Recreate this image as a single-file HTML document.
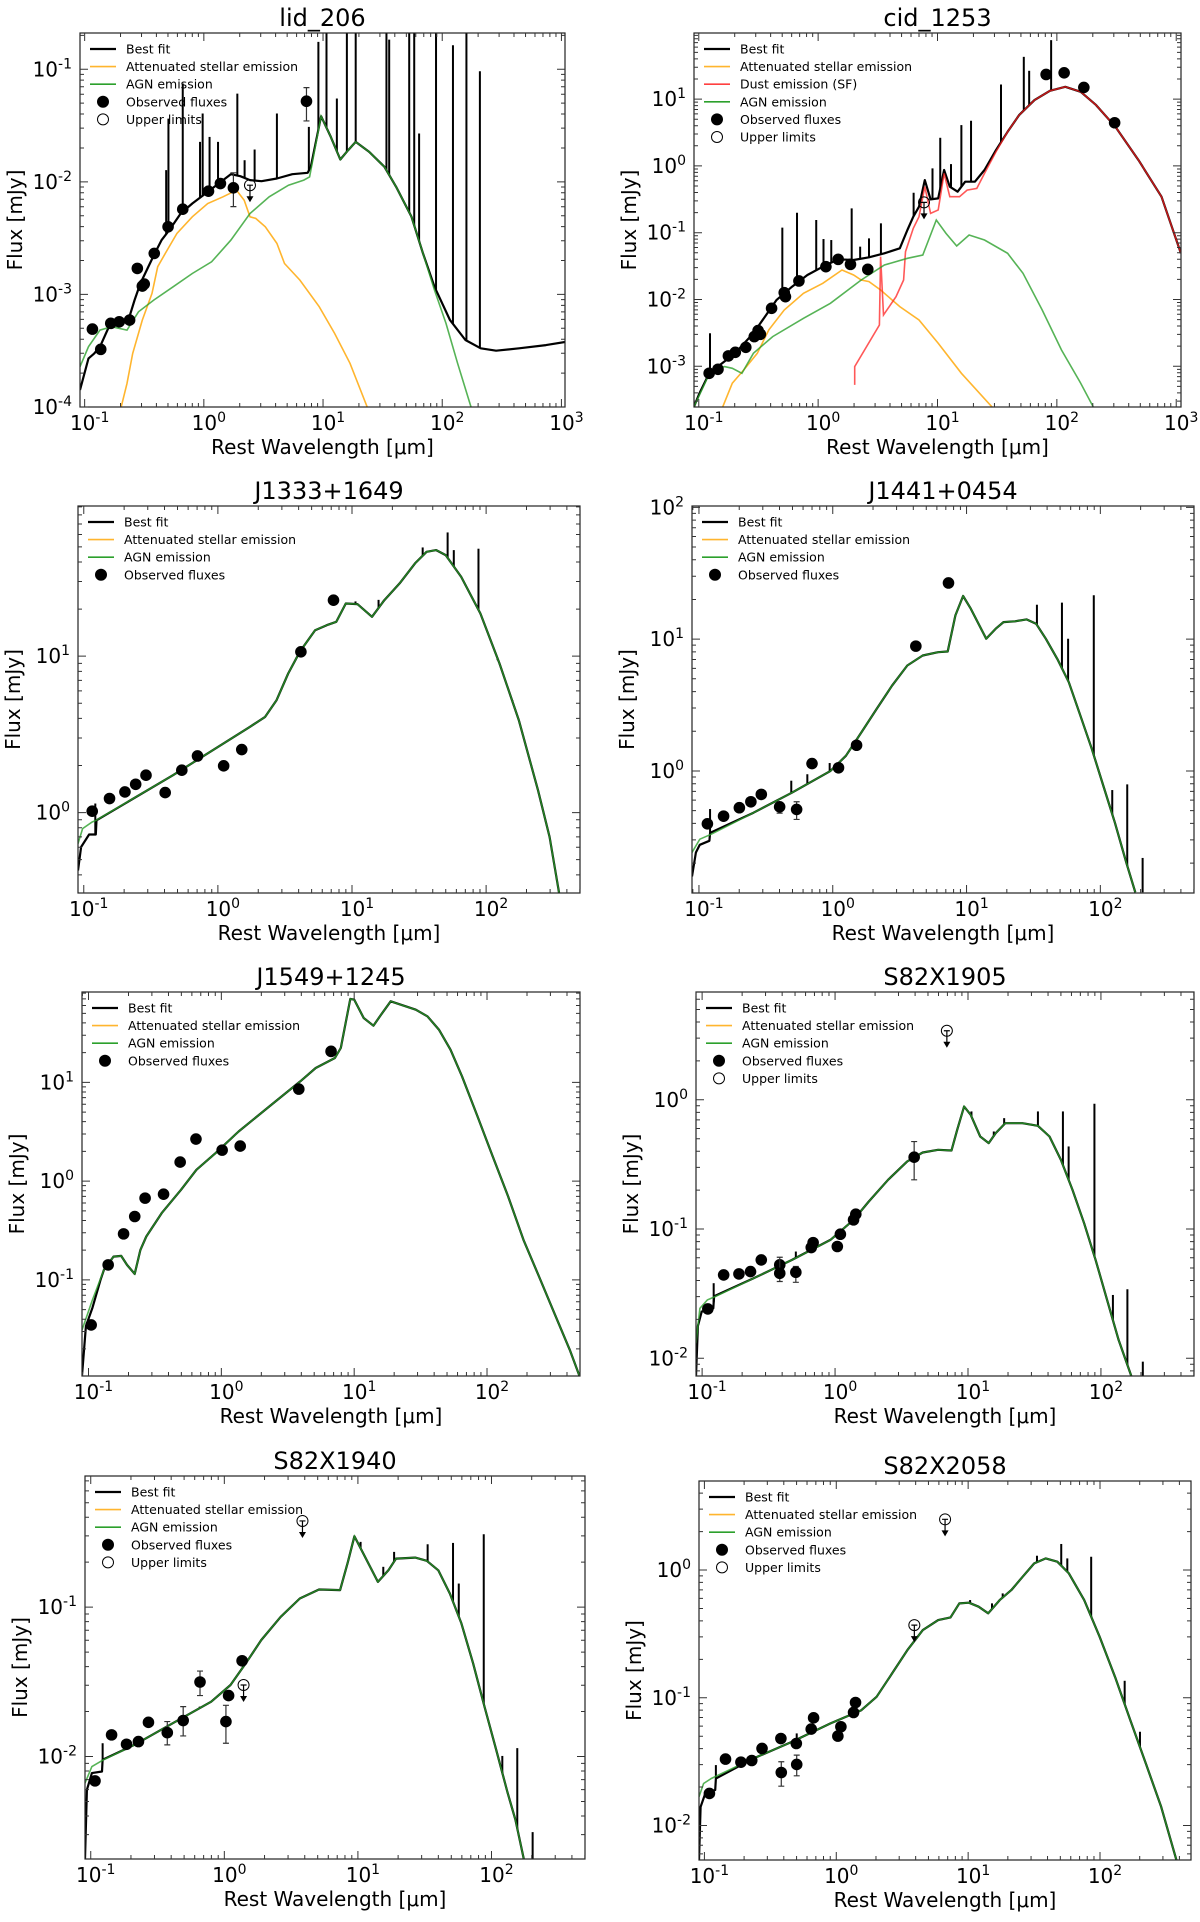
<!DOCTYPE html>
<html><head><meta charset="utf-8"><title>SED fits</title>
<style>
html,body{margin:0;padding:0;background:#fff;}
svg{display:block;font-family:"DejaVu Sans","Liberation Sans",sans-serif;}
</style></head>
<body>
<svg id="fig" width="1200" height="1922" viewBox="0 0 1200 1922" xmlns="http://www.w3.org/2000/svg"></svg>
<script>
// All values are log10(wavelength / micron) and log10(flux / mJy)
// ---------- lid_206 ----------
const p1FitX=[-1.039,-0.968,-0.919,-0.871,-0.79,-0.629,-0.581,-0.532,-0.419,-0.355,-0.29,-0.194,-0.097,0.032,0.226,0.306,0.387,0.484,0.613,0.742,0.871,0.897,0.984,1.065,1.145,1.21,1.274,1.387,1.516,1.613,1.742,1.839,1.935,2.065,2.194,2.323,2.452,2.645,2.871,3.045];
const p1FitY=[-3.849,-3.568,-3.524,-3.464,-3.272,-3.213,-3.05,-2.902,-2.651,-2.518,-2.429,-2.281,-2.192,-2.089,-1.932,-1.95,-1.985,-1.994,-1.97,-1.932,-1.92,-1.867,-1.417,-1.601,-1.802,-1.719,-1.645,-1.734,-1.867,-2.044,-2.311,-2.636,-2.932,-3.228,-3.405,-3.479,-3.5,-3.479,-3.45,-3.42];
const p1StarX=[-0.694,-0.645,-0.597,-0.516,-0.435,-0.387,-0.323,-0.226,-0.097,0.032,0.161,0.274,0.339,0.387,0.435,0.516,0.613,0.677,0.806,0.968,1.097,1.226,1.371];
const p1StarY=[-4.003,-3.79,-3.524,-3.228,-2.991,-2.754,-2.636,-2.459,-2.311,-2.192,-2.133,-2.074,-2.163,-2.311,-2.325,-2.399,-2.547,-2.725,-2.873,-3.109,-3.346,-3.612,-4.003];
const p1AgnX=[-1.039,-0.968,-0.871,-0.774,-0.645,-0.548,-0.419,-0.258,-0.097,0.065,0.226,0.387,0.548,0.71,0.839,0.887,0.984,1.065,1.145,1.21,1.274,1.387,1.516,1.613,1.742,1.839,1.935,2.032,2.129,2.242];
const p1AgnY=[-3.642,-3.464,-3.317,-3.287,-3.317,-3.154,-3.05,-2.932,-2.814,-2.71,-2.518,-2.281,-2.133,-2.03,-1.985,-1.956,-1.417,-1.601,-1.802,-1.719,-1.645,-1.734,-1.867,-2.044,-2.311,-2.636,-2.962,-3.257,-3.612,-4.003];
const p1LineX=[-0.316,-0.297,-0.177,-0.032,-0.01,0.048,0.119,0.281,0.342,0.426,0.613,0.881,0.961,1.029,1.116,1.2,1.274,1.532,1.555,1.723,1.765,1.806,1.948,2.09,2.203,2.316];
const p1LineTop=[-1.896,-1.438,-1.127,-1.645,-1.393,-1.601,-1.645,-1.216,-1.808,-1.713,-1.393,-1.512,-0.757,-0.5,-1.26,-0.5,-0.5,-0.5,-0.737,-0.5,-0.5,-1.571,-0.5,-0.787,-0.5,-1.018];
const p1ObsX=[-0.935,-0.865,-0.781,-0.71,-0.623,-0.558,-0.516,-0.5,-0.416,-0.3,-0.177,0.039,0.139,0.248,0.861];
const p1ObsY=[-3.308,-3.488,-3.257,-3.243,-3.228,-2.769,-2.926,-2.908,-2.636,-2.399,-2.243,-2.083,-2.015,-2.053,-1.284];
const p1ErrLo=[null,null,null,null,null,null,null,null,null,null,null,null,null,-2.22,-1.459];
const p1ErrHi=[null,null,null,null,null,null,null,null,null,null,null,null,null,-1.92,-1.163];
const p1UlX=[0.387];
const p1UlY=[-2.03];
// ---------- cid_1253 ----------
const p2FitX=[-1.042,-0.994,-0.913,-0.768,-0.671,-0.542,-0.445,-0.348,-0.219,-0.09,0.039,0.168,0.297,0.426,0.555,0.684,0.748,0.797,0.845,0.894,0.942,1.006,1.055,1.103,1.168,1.232,1.313,1.394,1.49,1.587,1.684,1.813,1.942,2.071,2.2,2.329,2.49,2.684,2.877,3.039];
const p2FitY=[-3.613,-3.404,-3.105,-2.905,-2.756,-2.506,-2.257,-2.007,-1.808,-1.633,-1.509,-1.399,-1.409,-1.369,-1.309,-1.234,-0.96,-0.761,-0.611,-0.212,-0.501,-0.486,-0.062,-0.312,-0.387,-0.237,-0.237,-0.062,0.237,0.511,0.761,0.985,1.125,1.185,1.11,0.91,0.586,0.087,-0.461,-1.309];
const p2StarX=[-0.8,-0.719,-0.623,-0.51,-0.413,-0.284,-0.123,0.039,0.2,0.297,0.361,0.426,0.523,0.684,0.845,1.006,1.2,1.458];
const p2StarY=[-3.613,-3.254,-3.055,-2.806,-2.456,-2.157,-1.908,-1.758,-1.559,-1.633,-1.708,-1.733,-1.858,-2.107,-2.307,-2.656,-3.105,-3.613];
const p2DustX=[0.306,0.306,0.513,0.523,0.548,0.652,0.716,0.732,0.797,0.845,0.894,0.942,1.006,1.055,1.103,1.184,1.248,1.329,1.394,1.49,1.587,1.684,1.813,1.942,2.071,2.2,2.329,2.49,2.684,2.877,3.039];
const p2DustY=[-3.279,-3.005,-2.382,-1.359,-2.232,-1.958,-1.708,-1.284,-0.935,-0.761,-0.312,-0.711,-0.661,-0.112,-0.461,-0.461,-0.362,-0.337,-0.112,0.212,0.511,0.761,0.985,1.125,1.185,1.11,0.91,0.586,0.087,-0.461,-1.309];
const p2AgnX=[-1.042,-0.897,-0.784,-0.719,-0.639,-0.542,-0.381,-0.123,0.103,0.361,0.555,0.748,0.877,0.99,1.071,1.161,1.265,1.394,1.587,1.716,1.877,2.039,2.2,2.306];
const p2AgnY=[-3.613,-3.055,-3.005,-3.03,-3.105,-2.806,-2.556,-2.282,-2.057,-1.708,-1.484,-1.384,-1.334,-0.81,-1.01,-1.2,-1.035,-1.11,-1.309,-1.608,-2.157,-2.756,-3.254,-3.613];
const p2LineX=[-0.906,-0.3,-0.177,-0.016,0.045,0.11,0.281,0.352,0.426,0.526,0.8,0.958,1.023,1.113,1.2,1.281,1.532,1.723,1.768,1.952];
const p2LineTop=[-2.506,-0.925,-0.701,-0.81,-1.095,-1.11,-0.636,-1.209,-1.085,-0.86,-0.402,-0.037,0.421,0.027,0.611,0.676,1.219,1.633,1.424,1.883];
const p2ObsX=[-0.913,-0.839,-0.752,-0.694,-0.606,-0.535,-0.503,-0.484,-0.39,-0.284,-0.274,-0.161,0.065,0.168,0.271,0.416,1.91,2.061,2.226,2.484];
const p2ObsY=[-3.105,-3.045,-2.845,-2.791,-2.716,-2.556,-2.466,-2.521,-2.132,-1.898,-1.958,-1.723,-1.509,-1.399,-1.474,-1.549,1.369,1.394,1.175,0.646];
const p2UlX=[0.887];
const p2UlY=[-0.546];
// ---------- J1333+1649 ----------
const p3FitX=[-1.043,-1.02,-0.96,-0.91,-0.905,-0.335,0.238,0.352,0.438,0.524,0.611,0.725,0.811,0.883,0.954,1.04,1.149,1.241,1.355,1.47,1.556,1.628,1.699,1.814,1.957,2.1,2.244,2.387,2.473,2.544];
const p3FitY=[-0.37,-0.22,-0.14,-0.14,-0.049,0.239,0.548,0.612,0.719,0.889,1.028,1.166,1.198,1.22,1.337,1.333,1.252,1.358,1.465,1.593,1.667,1.678,1.646,1.507,1.273,0.953,0.591,0.143,-0.156,-0.514];
const p3AgnX=[-1.043,-1.009,-0.937,-0.908,-0.335,0.238,0.352,0.438,0.524,0.611,0.725,0.811,0.883,0.954,1.04,1.149,1.241,1.355,1.47,1.556,1.628,1.699,1.814,1.957,2.1,2.244,2.387,2.473,2.544];
const p3AgnY=[-0.198,-0.102,-0.06,-0.049,0.239,0.548,0.612,0.719,0.889,1.028,1.166,1.198,1.22,1.337,1.333,1.252,1.358,1.465,1.593,1.667,1.678,1.646,1.507,1.273,0.953,0.591,0.143,-0.156,-0.514];
const p3LineX=[-0.914,1.026,1.198,1.527,1.713,1.759,1.943,2.086,2.195];
const p3LineTop=[0.058,1.35,1.36,1.695,1.791,1.678,1.687,0.974,0.719];
const p3ObsX=[-0.937,-0.808,-0.693,-0.613,-0.536,-0.393,-0.269,-0.152,0.043,0.178,0.619,0.862];
const p3ObsY=[0.009,0.09,0.132,0.181,0.239,0.128,0.271,0.362,0.299,0.403,1.028,1.358];
// ---------- J1441+0454 ----------
const p4FitX=[-1.052,-1.023,-0.994,-0.922,-0.917,-0.592,-0.305,-0.017,0.098,0.213,0.328,0.443,0.557,0.672,0.787,0.859,0.917,0.974,1.032,1.147,1.218,1.276,1.362,1.448,1.52,1.592,1.678,1.764,1.851,1.937,2.023,2.109,2.195,2.261];
const p4FitY=[-0.8,-0.619,-0.56,-0.53,-0.47,-0.317,-0.165,0.0,0.115,0.292,0.47,0.647,0.8,0.876,0.901,0.906,1.18,1.327,1.231,1.003,1.079,1.129,1.135,1.15,1.117,1.003,0.85,0.673,0.419,0.165,-0.114,-0.393,-0.698,-0.921];
const p4AgnX=[-1.052,-0.994,-0.908,-0.592,-0.305,-0.017,0.098,0.213,0.328,0.443,0.557,0.672,0.787,0.859,0.917,0.974,1.032,1.147,1.218,1.276,1.362,1.448,1.52,1.592,1.678,1.764,1.851,1.937,2.023,2.109,2.195,2.261];
const p4AgnY=[-0.619,-0.518,-0.48,-0.317,-0.165,0.0,0.115,0.292,0.47,0.647,0.8,0.876,0.901,0.906,1.18,1.327,1.231,1.003,1.079,1.129,1.135,1.15,1.117,1.003,0.85,0.673,0.419,0.165,-0.114,-0.393,-0.698,-0.921];
const p4LineX=[-0.917,-0.31,-0.19,-0.023,1.526,1.713,1.759,1.951,2.089,2.201,2.316];
const p4LineTop=[-0.289,-0.074,-0.025,0.06,1.261,1.277,1.003,1.333,-0.145,-0.102,-0.66];
const p4ObsX=[-0.937,-0.816,-0.698,-0.612,-0.534,-0.397,-0.27,-0.155,0.043,0.178,0.621,0.865];
const p4ObsY=[-0.401,-0.343,-0.279,-0.234,-0.178,-0.272,-0.292,0.056,0.024,0.195,0.947,1.426];
const p4ErrLo=[null,null,null,null,null,-0.32,-0.368,null,null,null,null,null];
const p4ErrHi=[null,null,null,null,null,-0.24,-0.234,null,null,null,null,null];
// ---------- J1549+1245 ----------
const p5FitX=[-1.049,-1.02,-0.97,-0.91,-0.884,-0.812,-0.754,-0.71,-0.652,-0.609,-0.565,-0.449,-0.304,-0.188,-0.043,0.13,0.362,0.594,0.71,0.855,0.899,0.971,1.0,1.072,1.145,1.203,1.275,1.348,1.464,1.551,1.638,1.725,1.812,1.928,2.043,2.159,2.275,2.391,2.507,2.623,2.696];
const p5FitY=[-1.97,-1.47,-1.28,-1.0,-0.899,-0.764,-0.757,-0.848,-0.939,-0.696,-0.561,-0.324,-0.088,0.115,0.284,0.503,0.757,1.01,1.145,1.247,1.348,1.845,1.838,1.652,1.574,1.686,1.821,1.787,1.736,1.669,1.534,1.331,1.061,0.655,0.25,-0.155,-0.595,-0.966,-1.338,-1.709,-1.973];
const p5AgnX=[-1.049,-0.971,-0.884,-0.812,-0.754,-0.71,-0.652,-0.609,-0.565,-0.449,-0.304,-0.188,-0.043,0.13,0.362,0.594,0.71,0.855,0.899,0.971,1.0,1.072,1.145,1.203,1.275,1.348,1.464,1.551,1.638,1.725,1.812,1.928,2.043,2.159,2.275,2.391,2.507,2.623,2.696];
const p5AgnY=[-1.507,-1.203,-0.899,-0.764,-0.757,-0.848,-0.939,-0.696,-0.561,-0.324,-0.088,0.115,0.284,0.503,0.757,1.01,1.145,1.247,1.348,1.845,1.838,1.652,1.574,1.686,1.821,1.787,1.736,1.669,1.534,1.331,1.061,0.655,0.25,-0.155,-0.595,-0.966,-1.338,-1.709,-1.973];
const p5ObsX=[-0.98,-0.852,-0.736,-0.652,-0.574,-0.435,-0.31,-0.191,0.006,0.142,0.583,0.826];
const p5ObsY=[-1.456,-0.848,-0.534,-0.358,-0.172,-0.132,0.193,0.426,0.314,0.355,0.932,1.314];
// ---------- S82X1905 ----------
const p6FitX=[-1.046,-1.032,-1.003,-0.916,-0.91,-0.613,-0.324,-0.035,0.139,0.254,0.399,0.543,0.659,0.775,0.876,0.919,0.971,1.02,1.092,1.156,1.208,1.28,1.41,1.526,1.613,1.699,1.786,1.873,1.96,2.046,2.133,2.228];
const p6FitY=[-2.137,-1.75,-1.639,-1.613,-1.52,-1.381,-1.239,-1.084,-0.929,-0.787,-0.619,-0.477,-0.408,-0.387,-0.392,-0.232,-0.052,-0.116,-0.284,-0.335,-0.258,-0.181,-0.181,-0.201,-0.284,-0.465,-0.697,-0.955,-1.239,-1.548,-1.858,-2.137];
const p6AgnX=[-1.046,-1.017,-0.96,-0.902,-0.613,-0.324,-0.035,0.139,0.254,0.399,0.543,0.659,0.775,0.876,0.919,0.971,1.02,1.092,1.156,1.208,1.28,1.41,1.526,1.613,1.699,1.786,1.873,1.96,2.046,2.133,2.228];
const p6AgnY=[-1.884,-1.613,-1.548,-1.523,-1.381,-1.239,-1.084,-0.929,-0.787,-0.619,-0.477,-0.408,-0.387,-0.392,-0.232,-0.052,-0.116,-0.284,-0.335,-0.258,-0.181,-0.181,-0.201,-0.284,-0.465,-0.697,-0.955,-1.239,-1.548,-1.858,-2.137];
const p6LineX=[-0.913,-0.295,1.026,1.194,1.272,1.526,1.714,1.757,1.951,2.09,2.199,2.315];
const p6LineTop=[-1.419,-1.174,-0.09,-0.245,-0.142,-0.09,-0.09,-0.361,-0.031,-1.51,-1.466,-2.026];
const p6ObsX=[-0.957,-0.838,-0.723,-0.636,-0.555,-0.416,-0.416,-0.295,-0.179,-0.165,0.017,0.04,0.139,0.156,0.595];
const p6ObsY=[-1.618,-1.355,-1.347,-1.329,-1.239,-1.277,-1.342,-1.334,-1.143,-1.105,-1.135,-1.04,-0.929,-0.885,-0.444];
const p6ErrLo=[null,null,null,null,null,null,-1.406,-1.412,null,null,null,null,null,null,-0.619];
const p6ErrHi=[null,null,null,null,null,null,-1.218,-1.29,null,null,null,null,null,null,-0.323];
const p6UlX=[0.841];
const p6UlY=[0.534];
// ---------- S82X1940 ----------
const p7FitX=[-1.043,-1.029,-0.991,-0.916,-0.911,-0.674,-0.386,-0.098,0.046,0.161,0.277,0.421,0.565,0.709,0.867,0.925,0.974,1.04,1.15,1.228,1.285,1.429,1.516,1.602,1.689,1.775,1.862,1.948,2.035,2.121,2.179,2.242];
const p7FitY=[-2.686,-2.223,-2.111,-2.1,-2.022,-1.922,-1.777,-1.633,-1.521,-1.376,-1.22,-1.065,-0.942,-0.882,-0.886,-0.697,-0.526,-0.641,-0.831,-0.753,-0.675,-0.668,-0.69,-0.753,-0.909,-1.109,-1.376,-1.666,-1.955,-2.245,-2.423,-2.686];
const p7AgnX=[-1.043,-0.991,-0.905,-0.674,-0.386,-0.098,0.046,0.161,0.277,0.421,0.565,0.709,0.867,0.925,0.974,1.04,1.15,1.228,1.285,1.429,1.516,1.602,1.689,1.775,1.862,1.948,2.035,2.121,2.179,2.242];
const p7AgnY=[-2.178,-2.067,-2.022,-1.922,-1.777,-1.633,-1.521,-1.376,-1.22,-1.065,-0.942,-0.882,-0.886,-0.697,-0.526,-0.641,-0.831,-0.753,-0.675,-0.668,-0.69,-0.753,-0.909,-1.109,-1.376,-1.666,-1.955,-2.245,-2.423,-2.686];
const p7LineX=[-0.911,-0.184,1.02,1.19,1.271,1.522,1.712,1.755,1.942,2.081,2.193,2.308];
const p7LineTop=[-1.911,-1.666,-0.563,-0.73,-0.63,-0.579,-0.57,-0.842,-0.512,-1.996,-1.944,-2.506];
const p7ObsX=[-0.968,-0.844,-0.732,-0.643,-0.568,-0.427,-0.308,-0.182,0.012,0.032,0.133];
const p7ObsY=[-2.163,-1.855,-1.918,-1.9,-1.771,-1.84,-1.759,-1.501,-1.766,-1.592,-1.359];
const p7ErrLo=[null,null,null,null,null,-1.922,-1.862,-1.592,-1.911,null,null];
const p7ErrHi=[null,null,null,null,null,-1.766,-1.666,-1.428,-1.657,null,null];
const p7UlX=[0.585,0.144];
const p7UlY=[-0.423,-1.521];
// ---------- S82X2058 ----------
const p8FitX=[-1.041,-1.029,-0.99,-0.918,-0.913,-0.627,-0.335,-0.044,0.19,0.306,0.423,0.539,0.656,0.773,0.866,0.933,1.006,1.079,1.152,1.239,1.327,1.414,1.501,1.589,1.676,1.764,1.88,1.997,2.114,2.23,2.347,2.464,2.58];
const p8FitY=[-2.27,-1.854,-1.74,-1.723,-1.632,-1.475,-1.345,-1.201,-1.097,-0.992,-0.809,-0.627,-0.47,-0.392,-0.371,-0.261,-0.256,-0.287,-0.339,-0.235,-0.157,-0.052,0.052,0.091,0.065,-0.026,-0.235,-0.522,-0.836,-1.175,-1.514,-1.854,-2.272];
const p8AgnX=[-1.041,-1.006,-0.948,-0.627,-0.335,-0.044,0.19,0.306,0.423,0.539,0.656,0.773,0.866,0.933,1.006,1.079,1.152,1.239,1.327,1.414,1.501,1.589,1.676,1.764,1.88,1.997,2.114,2.23,2.347,2.464,2.58];
const p8AgnY=[-1.775,-1.671,-1.632,-1.475,-1.345,-1.201,-1.097,-0.992,-0.809,-0.627,-0.47,-0.392,-0.371,-0.261,-0.256,-0.287,-0.339,-0.235,-0.157,-0.052,0.052,0.091,0.065,-0.026,-0.235,-0.522,-0.836,-1.175,-1.514,-1.854,-2.272];
const p8LineX=[-0.913,-0.3,1.015,1.181,1.262,1.522,1.706,1.752,1.933,2.187,2.303];
const p8LineTop=[-1.527,-1.279,-0.235,-0.261,-0.183,0.112,0.204,0.091,0.104,-0.867,-1.266];
const p8ObsX=[-0.962,-0.84,-0.723,-0.641,-0.563,-0.42,-0.417,-0.303,-0.3,-0.19,-0.172,0.012,0.035,0.131,0.146];
const p8ObsY=[-1.749,-1.48,-1.504,-1.491,-1.397,-1.319,-1.585,-1.358,-1.522,-1.245,-1.157,-1.3,-1.227,-1.115,-1.037];
const p8ErrLo=[null,null,null,null,null,null,-1.692,null,-1.611,null,null,null,null,null,null];
const p8ErrHi=[null,null,null,null,null,null,-1.501,null,-1.449,null,null,null,null,null,null];
const p8UlX=[0.592,0.825];
const p8UlY=[-0.431,0.397];

const panels=[
 {id:'lid-206',title:'lid_206',L:80,R:565,T:33,B:407,xr:[-1.039,3.03],yr:[-4.0,-0.678],
  fitX:p1FitX,fitY:p1FitY,starX:p1StarX,starY:p1StarY,agnX:p1AgnX,agnY:p1AgnY,lineX:p1LineX,lineTop:p1LineTop,
  obsX:p1ObsX,obsY:p1ObsY,errLo:p1ErrLo,errHi:p1ErrHi,ulX:p1UlX,ulY:p1UlY,dust:false},
 {id:'cid-1253',title:'cid_1253',L:694,R:1181,T:33,B:407,xr:[-1.04,3.04],yr:[-3.61,1.99],
  fitX:p2FitX,fitY:p2FitY,starX:p2StarX,starY:p2StarY,dustX:p2DustX,dustY:p2DustY,agnX:p2AgnX,agnY:p2AgnY,lineX:p2LineX,lineTop:p2LineTop,
  obsX:p2ObsX,obsY:p2ObsY,ulX:p2UlX,ulY:p2UlY,dust:true},
 {id:'j1333',title:'J1333+1649',L:78,R:580,T:506,B:893,xr:[-1.043,2.70],yr:[-0.514,1.96],
  fitX:p3FitX,fitY:p3FitY,agnX:p3AgnX,agnY:p3AgnY,lineX:p3LineX,lineTop:p3LineTop,obsX:p3ObsX,obsY:p3ObsY,noUL:true},
 {id:'j1441',title:'J1441+0454',L:692,R:1194,T:506,B:893,xr:[-1.052,2.70],yr:[-0.926,2.01],
  fitX:p4FitX,fitY:p4FitY,agnX:p4AgnX,agnY:p4AgnY,lineX:p4LineX,lineTop:p4LineTop,obsX:p4ObsX,obsY:p4ObsY,errLo:p4ErrLo,errHi:p4ErrHi,noUL:true},
 {id:'j1549',title:'J1549+1245',L:82,R:580,T:992,B:1376,xr:[-1.049,2.70],yr:[-1.973,1.915],
  fitX:p5FitX,fitY:p5FitY,agnX:p5AgnX,agnY:p5AgnY,obsX:p5ObsX,obsY:p5ObsY,noUL:true},
 {id:'s82x1905',title:'S82X1905',L:696,R:1194,T:992,B:1376,xr:[-1.046,2.70],yr:[-2.137,0.834],
  fitX:p6FitX,fitY:p6FitY,agnX:p6AgnX,agnY:p6AgnY,lineX:p6LineX,lineTop:p6LineTop,obsX:p6ObsX,obsY:p6ObsY,errLo:p6ErrLo,errHi:p6ErrHi,ulX:p6UlX,ulY:p6UlY},
 {id:'s82x1940',title:'S82X1940',L:85,R:585,T:1476,B:1859,xr:[-1.043,2.70],yr:[-2.686,-0.122],
  fitX:p7FitX,fitY:p7FitY,agnX:p7AgnX,agnY:p7AgnY,lineX:p7LineX,lineTop:p7LineTop,obsX:p7ObsX,obsY:p7ObsY,errLo:p7ErrLo,errHi:p7ErrHi,ulX:p7UlX,ulY:p7UlY},
 {id:'s82x2058',title:'S82X2058',L:699,R:1191,T:1481,B:1860,xr:[-1.041,2.69],yr:[-2.27,0.697],
  fitX:p8FitX,fitY:p8FitY,agnX:p8AgnX,agnY:p8AgnY,lineX:p8LineX,lineTop:p8LineTop,obsX:p8ObsX,obsY:p8ObsY,errLo:p8ErrLo,errHi:p8ErrHi,ulX:p8UlX,ulY:p8UlY}
];

const NS='http://www.w3.org/2000/svg';
const svg=document.getElementById('fig');
function mk(tag,parent){const e=document.createElementNS(NS,tag);parent.appendChild(e);return e;}
function setA(e,o){for(const k in o)e.setAttribute(k,o[k]);}
function interp(xs,ys,x){
  if(x<=xs[0])return ys[0];
  for(let i=1;i<xs.length;i++){if(x<=xs[i]){const t=(x-xs[i-1])/(xs[i]-xs[i-1]||1);return ys[i-1]+t*(ys[i]-ys[i-1]);}}
  return ys[ys.length-1];
}
function powText(parent,x,y,exp,anchor,size){
  const t=mk('text',parent);
  setA(t,{x:x,y:y,'text-anchor':anchor,'font-size':size,fill:'#000'});
  const a=mk('tspan',t);a.textContent='10';
  const b=mk('tspan',t);setA(b,{dy:-8,'font-size':Math.round(size*0.72)});b.textContent=String(exp);
  return t;
}

panels.forEach((p,pi)=>{
  const g=mk('g',svg);
  
  
  const sx=v=>p.L+(v-p.xr[0])/(p.xr[1]-p.xr[0])*(p.R-p.L);
  const sy=v=>p.B-(v-p.yr[0])/(p.yr[1]-p.yr[0])*(p.B-p.T);
  const clipId='clip'+pi;
  const cp=mk('clipPath',g);cp.setAttribute('id',clipId);
  const cr=mk('rect',cp);setA(cr,{x:p.L,y:p.T,width:p.R-p.L,height:p.B-p.T});

  const tt=mk('text',g);setA(tt,{x:(p.L+p.R)/2,y:p.T-7,'text-anchor':'middle','font-size':24,fill:'#000'});
  tt.textContent=p.title;
  
  

  const plot=mk('g',g);plot.setAttribute('clip-path','url(#'+clipId+')');
  
  
  const pathOf=(xs,ys)=>xs.map((x,i)=>(i?'L':'M')+sx(x).toFixed(1)+','+sy(ys[i]).toFixed(1)).join('');

  const fit=mk('path',plot);setA(fit,{d:pathOf(p.fitX,p.fitY),fill:'none',stroke:'#000','stroke-width':2.2,'stroke-linejoin':'round'});
  
  
  if(p.lineX){
    p.lineX.forEach((lx,i)=>{
      const base=interp(p.fitX,p.fitY,lx);
      const ln=mk('line',plot);setA(ln,{x1:sx(lx),x2:sx(lx),y1:sy(base),y2:sy(p.lineTop[i]),stroke:'#000','stroke-width':2});
      
      
    });
  }
  if(p.starX){
    const st=mk('path',plot);setA(st,{d:pathOf(p.starX,p.starY),fill:'none',stroke:'#ffb52e','stroke-width':1.6});
    
    
  }
  if(p.dustX){
    const du=mk('path',plot);setA(du,{d:pathOf(p.dustX,p.dustY),fill:'none',stroke:'#ff2020','stroke-width':1.6,'stroke-opacity':0.75});
    
    
  }
  const ag=mk('path',plot);setA(ag,{d:pathOf(p.agnX,p.agnY),fill:'none',stroke:'#2ca02c','stroke-width':1.6,'stroke-opacity':0.8});
  
  

  p.obsX.forEach((ox,i)=>{
    if(p.errLo&&p.errLo[i]!=null){
      const x=sx(ox),y1=sy(p.errLo[i]),y2=sy(p.errHi[i]);
      const eb=mk('path',plot);setA(eb,{d:`M${x},${y1}L${x},${y2}M${x-3},${y1}L${x+3},${y1}M${x-3},${y2}L${x+3},${y2}`,stroke:'#333','stroke-width':1.2,fill:'none'});
      
      
    }
    const c=mk('circle',plot);setA(c,{cx:sx(ox),cy:sy(p.obsY[i]),r:5.8,fill:'#000'});
    
    
  });
  if(p.ulX){
    p.ulX.forEach((ux,i)=>{
      const x=sx(ux),y=sy(p.ulY[i]);
      const ug=mk('g',plot);
      
      
      const c=mk('circle',ug);setA(c,{cx:x,cy:y,r:5.5,fill:'none',stroke:'#000','stroke-width':1});
      const l=mk('path',ug);setA(l,{d:`M${x-3},${y}L${x+3},${y}M${x},${y}L${x},${y+12}`,stroke:'#000','stroke-width':1.2});
      const a=mk('path',ug);setA(a,{d:`M${x-3.5},${y+11}L${x+3.5},${y+11}L${x},${y+17}Z`,fill:'#000'});
    });
  }

  const fr=mk('rect',g);setA(fr,{x:p.L,y:p.T,width:p.R-p.L,height:p.B-p.T,fill:'none',stroke:'#222','stroke-width':1.2});
  
  

  const tk=mk('g',g);
  
  
  let td='';
  for(let d=Math.floor(p.xr[0]);d<=Math.ceil(p.xr[1]);d++){
    for(let k=1;k<=9;k++){
      const v=d+Math.log10(k);if(v<p.xr[0]-1e-6||v>p.xr[1]+1e-6)continue;
      const x=sx(v),len=k===1?8:4;
      td+=`M${x},${p.B}L${x},${p.B-len}M${x},${p.T}L${x},${p.T+len}`;
    }
  }
  for(let d=Math.floor(p.yr[0]);d<=Math.ceil(p.yr[1]);d++){
    for(let k=1;k<=9;k++){
      const v=d+Math.log10(k);if(v<p.yr[0]-1e-6||v>p.yr[1]+1e-6)continue;
      const y=sy(v),len=k===1?8:4;
      td+=`M${p.L},${y}L${p.L+len},${y}M${p.R},${y}L${p.R-len},${y}`;
    }
  }
  const tp=mk('path',tk);setA(tp,{d:td,stroke:'#333','stroke-width':1,fill:'none'});

  const xl=mk('g',g);
  
  
  for(let d=Math.ceil(p.xr[0]-0.005);d<=Math.floor(p.xr[1]+0.005);d++){
    powText(xl,sx(d)+5,p.B+23,d,'middle',20);
  }
  const yl=mk('g',g);
  
  
  for(let d=Math.ceil(p.yr[0]-0.005);d<=Math.floor(p.yr[1]+0.005);d++){
    powText(yl,p.L-8,sy(d)+7,d,'end',20);
  }
  const xt=mk('text',g);setA(xt,{x:(p.L+p.R)/2,y:p.B+47,'text-anchor':'middle','font-size':20,fill:'#000'});
  xt.textContent='Rest Wavelength [\u03bcm]';
  
  
  const cy=(p.T+p.B)/2,cx=p.L-58;
  const yt=mk('text',g);setA(yt,{x:cx,y:cy,'text-anchor':'middle','font-size':20,fill:'#000',transform:`rotate(-90 ${cx} ${cy})`});
  yt.textContent='Flux [mJy]';
  
  

  const lg=mk('g',g);
  
  
  const entries=[['Best fit','line','#000'],['Attenuated stellar emission','line','#ffb52e']];
  if(p.dust)entries.push(['Dust emission (SF)','line','#ff4040']);
  entries.push(['AGN emission','line','#2ca02c'],['Observed fluxes','dot','#000']);
  if(!p.noUL)entries.push(['Upper limits','open','#000']);
  entries.forEach((e,i)=>{
    const y=p.T+16+i*17.6;
    const it=mk('g',lg);
    
    
    if(e[1]==='line'){const l=mk('line',it);setA(l,{x1:p.L+10,x2:p.L+36,y1:y,y2:y,stroke:e[2],'stroke-width':e[0]==='Best fit'?2.2:1.6});}
    else{const c=mk('circle',it);setA(c,{cx:p.L+23,cy:y,r:5.5,fill:e[1]==='dot'?'#000':'none',stroke:'#000','stroke-width':1});}
    const t=mk('text',it);setA(t,{x:p.L+46,y:y+4.5,'font-size':12.5,fill:'#000'});t.textContent=e[0];
  });
});
</script>
</body></html>
